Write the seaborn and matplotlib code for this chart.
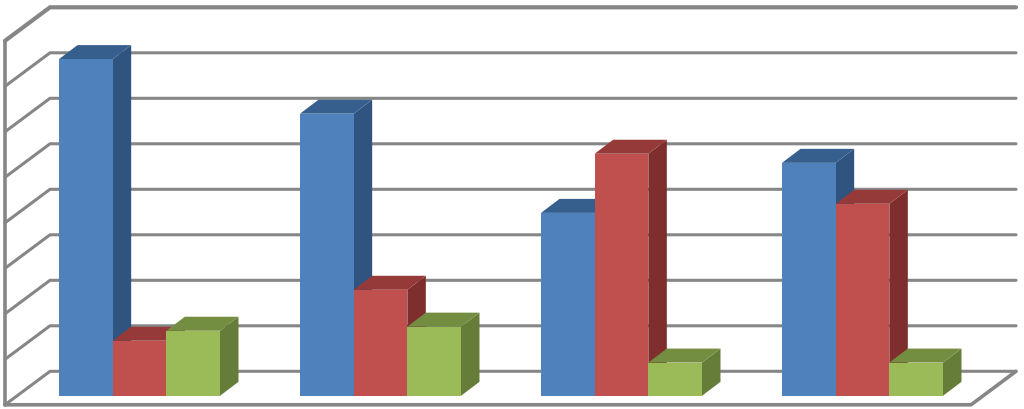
import matplotlib
matplotlib.use("Agg")
import matplotlib.pyplot as plt
import numpy as np
import pandas as pd
import seaborn as sns
from matplotlib.patches import Polygon

# Values (no labels are shown in the original)
categories = ["Category 1", "Category 2", "Category 3", "Category 4"]
series_names = ["Series 1", "Series 2", "Series 3"]
series_1 = [7.4, 6.2, 4.02, 5.12]
series_2 = [1.21, 2.33, 5.32, 4.22]
series_3 = [1.43, 1.52, 0.73, 0.73]
grid_levels = [0, 1, 2, 3, 4, 5, 6, 7, 8]

front_colors = ["#4F81BD", "#C0504D", "#9BBB59"]
side_colors = ["#2F5480", "#7E2F2D", "#667D3A"]
top_colors = ["#375F8E", "#953A38", "#748E41"]
grid_color = "#868686"

# Data units per pixel on each axis
PX_X = 1 / 241
PX_Y = 1 / 45.5

# Fake 3D depth of bars and walls
BAR_DX, BAR_DY = 18.5 * PX_X, 14 * PX_Y
WALL_DX, WALL_DY = 45 * PX_X, 33.5 * PX_Y
WALL_LEFT = -134.5 * PX_X
WALL_RIGHT = 876.5 * PX_X
FLOOR_FRONT = -9 * PX_Y


def draw_walls(ax):
    """Draw the back wall gridlines, left wall and floor outline."""
    for level in grid_levels:
        y_front = FLOOR_FRONT + level
        y_back = y_front + WALL_DY
        width = 3.0 if level == grid_levels[-1] else 2.2
        ax.plot(
            [WALL_LEFT, WALL_LEFT + WALL_DX, WALL_RIGHT],
            [y_front, y_back, y_back],
            color=grid_color, lw=width, zorder=1, solid_joinstyle="miter",
        )

    # Left wall edge
    ax.plot([WALL_LEFT, WALL_LEFT], [FLOOR_FRONT, FLOOR_FRONT + grid_levels[-1]],
            color=grid_color, lw=2.6, zorder=1)

    # Floor front edge and right edge
    ax.plot(
        [WALL_LEFT, WALL_RIGHT - WALL_DX, WALL_RIGHT],
        [FLOOR_FRONT, FLOOR_FRONT, FLOOR_FRONT + WALL_DY],
        color=grid_color, lw=2.6, zorder=1,
    )


def add_depth(ax):
    """Add side and top faces to the bars seaborn has drawn."""
    order = 2
    for i in range(len(categories)):
        for s, container in enumerate(ax.containers):
            bar = container.patches[i]
            x0, x1 = bar.get_x(), bar.get_x() + bar.get_width()
            y0, y1 = bar.get_y(), bar.get_y() + bar.get_height()

            side = [(x1, y0), (x1 + BAR_DX, y0 + BAR_DY), (x1 + BAR_DX, y1 + BAR_DY), (x1, y1)]
            top = [(x0, y1), (x1, y1), (x1 + BAR_DX, y1 + BAR_DY), (x0 + BAR_DX, y1 + BAR_DY)]
            ax.add_patch(Polygon(side, fc=side_colors[s], ec="none", zorder=order))
            ax.add_patch(Polygon(top, fc=top_colors[s], ec="none", zorder=order))
            bar.set_zorder(order + 0.5)
            order += 1


def main() -> None:
    sns.set_theme(style="white")

    df = pd.DataFrame({
        "category": np.repeat(categories, len(series_names)),
        "series": series_names * len(categories),
        "value": np.array([series_1, series_2, series_3]).T.ravel(),
    })

    fig = plt.figure(figsize=(10.24, 4.10), dpi=100)
    ax = fig.add_axes([0, 0, 1, 1])

    sns.barplot(
        data=df, x="category", y="value", hue="series",
        hue_order=series_names, palette=front_colors,
        width=0.668, gap=0, saturation=1, linewidth=0,
        legend=False, ax=ax,
    )

    draw_walls(ax)
    add_depth(ax)

    # Axes span the whole figure, so the limits set the pixel layout
    ax.set_xlim(-139.5 * PX_X, 884.5 * PX_X)
    ax.set_ylim(-13.2 * PX_Y, 396.8 * PX_Y)
    ax.axis("off")

    fig.savefig("out.png", dpi=100, facecolor="white")


if __name__ == "__main__":
    main()
